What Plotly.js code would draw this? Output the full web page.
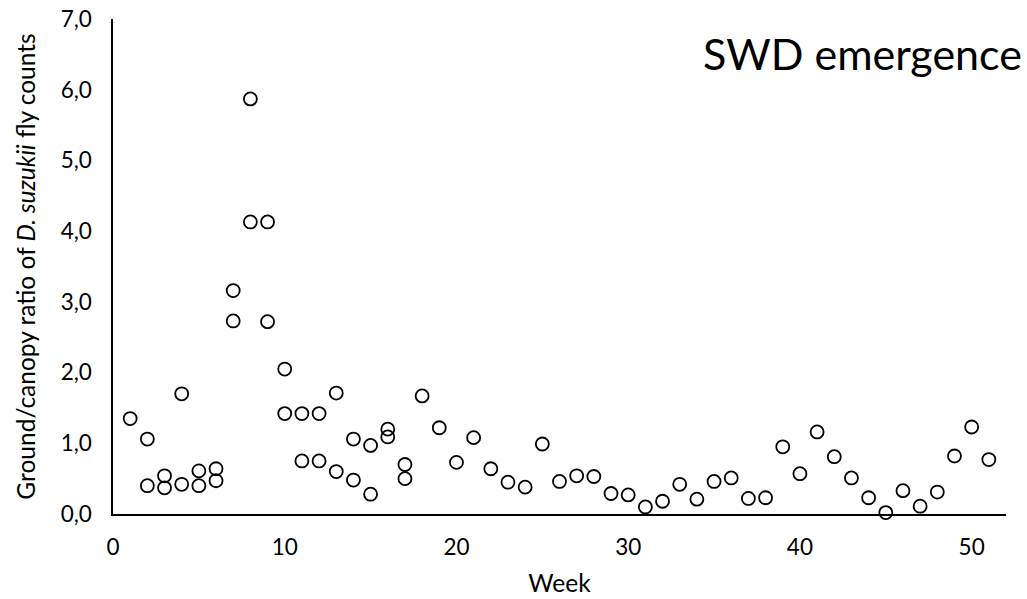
<!DOCTYPE html>
<html>
<head>
<meta charset="utf-8">
<script src="https://cdn.plot.ly/plotly-3.0.1.min.js"></script>
<style>html,body{margin:0;padding:0;background:#fff;}#chart{width:1027px;height:599px;}</style>
</head>
<body>
<div id="chart"></div>
<script>
var weeks = [1,2,2,3,3,4,4,5,5,6,6,7,7,8,8,9,9,10,10,11,11,12,12,13,13,14,14,15,15,16,16,17,17,18,19,20,21,22,23,24,25,26,27,28,29,30,31,32,33,34,35,36,37,38,39,40,41,42,43,44,45,46,47,48,49,50,51];
var ratios = [1.35,1.06,0.40,0.54,0.37,1.70,0.42,0.61,0.40,0.64,0.47,3.16,2.73,5.87,4.13,4.13,2.72,2.05,1.42,1.42,0.75,1.42,0.75,1.71,0.60,1.06,0.48,0.97,0.28,1.20,1.09,0.70,0.50,1.67,1.22,0.73,1.08,0.64,0.45,0.38,0.99,0.46,0.54,0.53,0.29,0.27,0.10,0.18,0.42,0.21,0.46,0.51,0.22,0.23,0.95,0.57,1.16,0.81,0.51,0.23,0.02,0.33,0.11,0.31,0.82,1.23,0.77];
var xTickVals = [0,10,20,30,40,50];
var xTickText = ['0','10','20','30','40','50'];
var chartTitle = "SWD emergence";
var xTitle = "Week";
var yTitle = "Ground/canopy ratio of <i>D. suzukii</i> fly counts";

var font = "Lato, 'Open Sans', sans-serif";
var trace = {
  x: weeks, y: ratios, type: 'scatter', mode: 'markers', cliponaxis: false,
  marker: {symbol: 'circle-open', size: 13, color: '#000', line: {width: 1.8, color: '#000'}},
  hoverinfo: 'x+y'
};
var layout = {
  width: 1027, height: 599,
  margin: {l: 113, r: 21, t: 19, b: 85},
  paper_bgcolor: '#fff', plot_bgcolor: '#fff',
  separators: ', ',
  showlegend: false,
  font: {family: font, color: '#000', size: 20},
  xaxis: {
    range: [0, 52], tickvals: xTickVals, ticktext: xTickText,
    showgrid: false, zeroline: false, showline: true, linecolor: '#000', linewidth: 1.6,
    ticks: '', ticklabelstandoff: 12, tickfont: {family: font, size: 22.5, color: '#000'},
    title: {text: xTitle, font: {family: font, size: 24.5, color: '#000'}, standoff: 16}
  },
  yaxis: {
    range: [0, 7], dtick: 1, tick0: 0, tickformat: '.1f',
    showgrid: false, zeroline: false, showline: true, linecolor: '#000', linewidth: 1.6,
    ticks: '', ticklabelstandoff: 15, tickfont: {family: font, size: 22.5, color: '#000'},
    title: {text: yTitle, font: {family: font, size: 24.5, color: '#000'}, standoff: 18}
  },
  annotations: [{
    text: chartTitle, xref: 'paper', yref: 'paper', x: 1.02, y: 0.93,
    xanchor: 'right', yanchor: 'middle', showarrow: false,
    font: {family: font, size: 43, color: '#000'}
  }]
};
Plotly.newPlot('chart', [trace], layout, {staticPlot: true, displayModeBar: false});
</script>
</body>
</html>
